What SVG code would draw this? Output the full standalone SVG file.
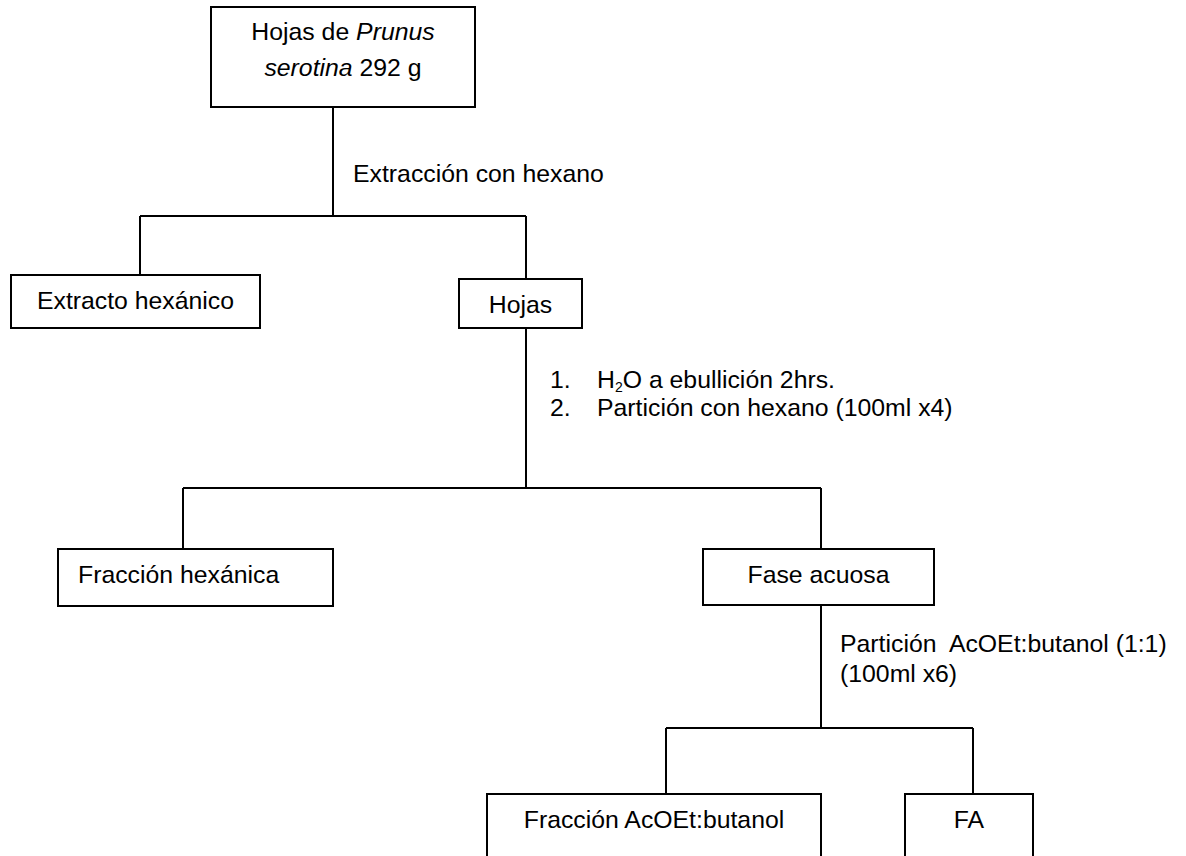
<svg xmlns="http://www.w3.org/2000/svg" width="1186" height="856" viewBox="0 0 1186 856">
<style>
.box{fill:#fff;stroke:#000;stroke-width:2}
.ln{fill:none;stroke:#000;stroke-width:2}
text{font-family:"Liberation Sans",Arial,sans-serif;font-size:24.8px;fill:#000}
.c{text-anchor:middle}
.pre{white-space:pre}
</style>
<rect width="1186" height="856" fill="#fff"/>
<g id="connectors">
<path class="ln" d="M333 107V216M140 216H526M140 216V275M526 216V279"/>
<path class="ln" d="M526 328V488M183 488H821M183 488V549M821 488V549"/>
<path class="ln" d="M821 605V728M666 728H973M666 728V794M973 728V794"/>
<text x="353" y="182">Extracción con hexano</text>
<text x="550" y="388">1.</text>
<text x="597" y="388">H<tspan font-size="14" dy="3.5">2</tspan><tspan dy="-3.5">O a ebullición 2hrs.</tspan></text>
<text x="550" y="416">2.</text>
<text x="597" y="416">Partición con hexano (100ml x4)</text>
<text class="pre" x="840" y="652">Partición  AcOEt:butanol (1:1)</text>
<text x="840" y="682">(100ml x6)</text>
</g>
<g id="n-top">
<rect class="box" x="211" y="7" width="264" height="100"/>
<text class="c" x="343" y="40">Hojas de <tspan font-style="italic">Prunus</tspan></text>
<text class="c" x="343" y="76"><tspan font-style="italic">serotina</tspan> 292 g</text>
</g>
<g id="n-extracto">
<rect class="box" x="11" y="275" width="249" height="53"/>
<text class="c" x="135.5" y="309">Extracto hexánico</text>
</g>
<g id="n-hojas">
<rect class="box" x="459" y="279" width="123" height="49"/>
<text class="c" x="520.5" y="313">Hojas</text>
</g>
<g id="n-frac-hex">
<rect class="box" x="58" y="549" width="275" height="57"/>
<text x="78" y="583">Fracción hexánica</text>
</g>
<g id="n-fase">
<rect class="box" x="703" y="549" width="231" height="56"/>
<text class="c" x="818.5" y="583">Fase acuosa</text>
</g>
<g id="n-frac-acoet">
<rect class="box" x="487" y="794" width="334" height="70"/>
<text class="c" x="654" y="828">Fracción AcOEt:butanol</text>
</g>
<g id="n-fa">
<rect class="box" x="905" y="794" width="128" height="70"/>
<text class="c" x="969" y="828">FA</text>
</g>
</svg>
